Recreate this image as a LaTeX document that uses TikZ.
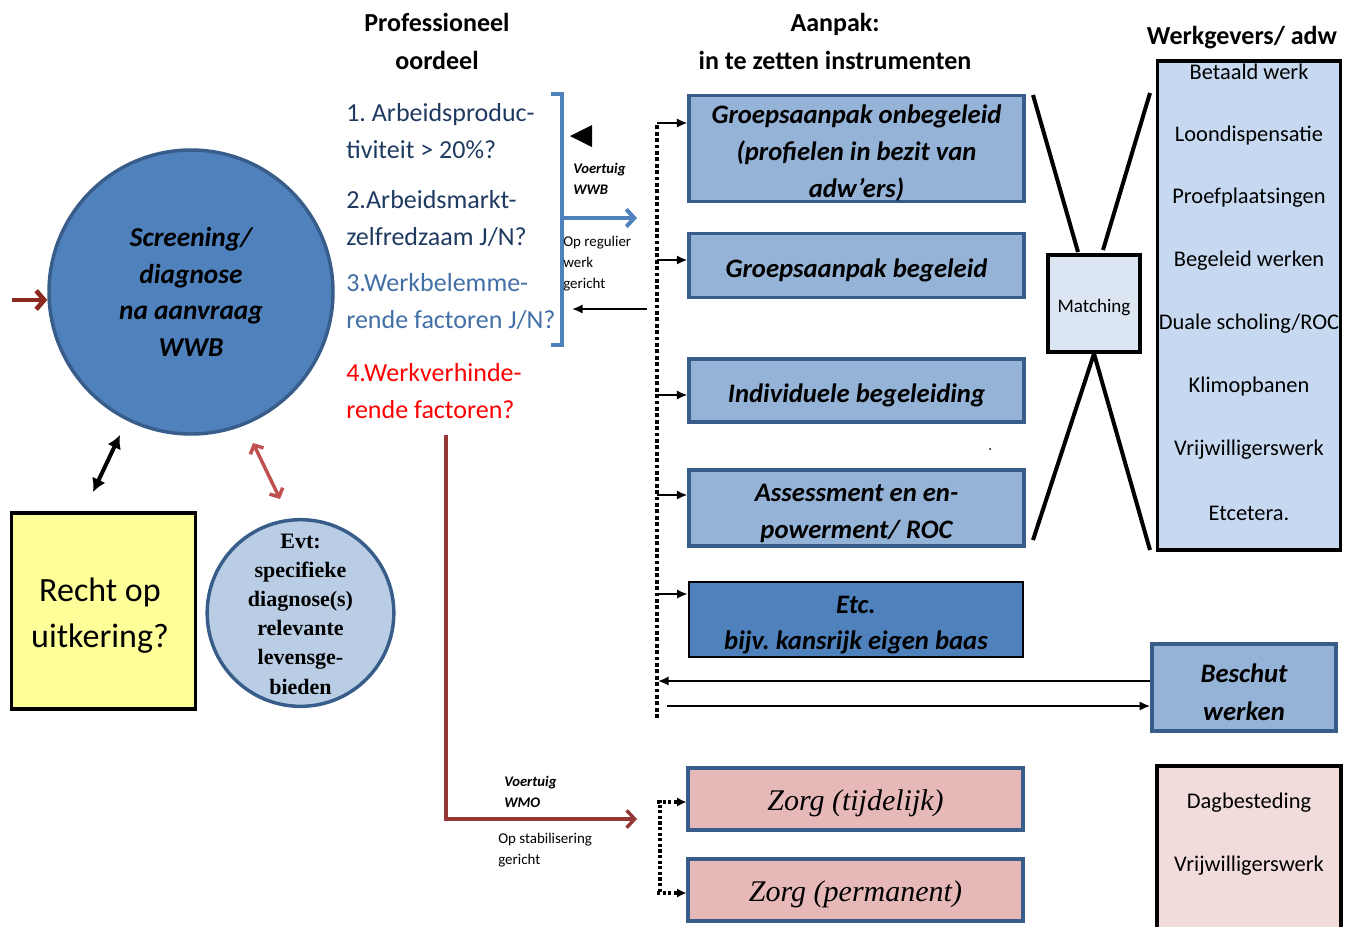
\documentclass[tikz,border=0pt]{standalone}
\usepackage{fontspec}
\setmainfont{Carlito}
\newfontfamily\serfam{Liberation Serif}
\usetikzlibrary{arrows.meta}
\newcommand\myfs[2]{\fontsize{#1}{#2}\selectfont}
\newcommand\myst{\rule{0pt}{21pt}}
\definecolor{circblue}{HTML}{4F81BD}
\definecolor{bordblue}{HTML}{385D8A}
\definecolor{boxblue}{HTML}{95B3D7}
\definecolor{colblue}{HTML}{C6D9F1}
\definecolor{matchblue}{HTML}{DCE6F2}
\definecolor{smallcirc}{HTML}{B9CDE5}
\definecolor{yellowbox}{HTML}{FFFF99}
\definecolor{zorgpink}{HTML}{E6B9B8}
\definecolor{dagpink}{HTML}{F2DCDB}
\definecolor{navytext}{HTML}{1F3A60}
\definecolor{midtext}{HTML}{416FA6}
\definecolor{brkblue}{HTML}{4F81BD}
\definecolor{darkredline}{HTML}{953735}
\definecolor{inred}{HTML}{8B2A1E}
\definecolor{softred}{HTML}{C0504D}
\begin{document}
\frenchspacing
\begin{tikzpicture}[x=0.75pt,y=-0.75pt,
  head/.style={inner sep=0, align=center, font=\bfseries\myfs{19.5}{28.5}},
  blbox/.style={draw=bordblue, line width=2.6pt, fill=boxblue, minimum width=251pt, inner sep=0, align=center, font=\bfseries\itshape\myfs{20}{27.75}},
  quest/.style={anchor=west, inner sep=0, align=left, font=\myfs{19.5}{27.75}},
  note/.style={anchor=west, inner sep=0, align=left, font=\myfs{11.2}{15.75}},
  notebi/.style={anchor=west, inner sep=0, align=left, font=\bfseries\itshape\myfs{11}{15.75}},
  colitem/.style={inner sep=0, font=\myfs{16.8}{20}},
  arr/.style={line width=1.5pt, -{Latex[length=8pt,width=7pt]}},
  mdot/.style={line width=2.8pt, dash pattern=on 2.8pt off 2pt},
  zbox/.style={draw=bordblue, line width=2.6pt, fill=zorgpink, minimum width=251pt, minimum height=46.5pt, inner sep=0, font=\serfam\itshape\myfs{22.5}{27}},
  chev/.style={-{Straight Barb[length=6pt,width=13pt]}},
]
\useasboundingbox (0,0) rectangle (1355,926);

% headings
\node[head] (h1) at (437,41) {Professioneel\\oordeel};
\node[head] (h2) at (835,41) {Aanpak:\\in te zetten instrumenten};
\node[head] (h3) at (1242,38) {Werkgevers/ adw};

% big circle
\node[circle, draw=bordblue, line width=2.6pt, fill=circblue, minimum size=213pt, inner sep=0, align=center, font=\bfseries\itshape\myfs{20.5}{27.5}] (scr) at (191,292) {Screening/\\diagnose\\na aanvraag\\WWB};
\coordinate (inA) at (12,300);
\draw[inred, line width=3.5pt, -{Straight Barb[length=6pt,width=14pt]}] (inA) -- (inA -| scr.west);

% yellow box
\node[draw=black, line width=2.5pt, fill=yellowbox, minimum width=138pt, minimum height=147pt, inner sep=0] (rk) at (103.5,611) {};
\node[inner sep=0, align=center, font=\myfs{25.5}{34.5}] (rkt) at (100,616) {Recht op\\uitkering?};

% small circle
\node[circle, draw=bordblue, line width=2.6pt, fill=smallcirc, minimum size=140pt, inner sep=0] (evc) at (300.5,613) {};
\node[inner sep=0, align=center, font=\serfam\bfseries\myfs{16.5}{21.9}] (ev) at (300.5,614) {Evt:\\specifieke\\diagnose(s)\\relevante\\levensge-\\bieden};

% double arrows
\coordinate (ka) at (93,492); \coordinate (kb) at (120,435);
\draw[line width=3pt, {Latex[length=10pt,width=11pt]}-{Latex[length=10pt,width=11pt]}] (ka) -- (kb);
\coordinate (ra) at (253,443); \coordinate (rbb) at (280,499);
\draw[softred, line width=2.6pt, {Straight Barb[length=5pt,width=11pt]}-{Straight Barb[length=5pt,width=11pt]}] (ra) -- (rbb);

% questions
\node[quest, text=navytext] (q1) at (346,131.5) {1. Arbeidsproduc-\\tiviteit > 20\%?};
\node[quest, text=navytext] (q2) at (346,218.5) {2.Arbeidsmarkt-\\zelfredzaam J/N?};
\node[quest, text=midtext] (q3) at (346,301.5) {3.Werkbelemme-\\rende factoren J/N?};
\node[quest, text=red] (q4) at (346,391.5) {4.Werkverhinde-\\rende factoren?};

% bracket and WWB arrow
\draw[brkblue, line width=2.6pt] (551,94) -- (562,94) -- (562,345) -- (551,345);
\coordinate (brk) at (562,218);
\coordinate (wwbtip) at (637,218);
\draw[brkblue, line width=3pt, chev] (brk) -- (wwbtip);
\fill (570,136) -- (592,125) -- (592,147) -- cycle;
\node[notebi] (vw) at (573,178.5) {Voertuig\\WWB};
\node[note] (orw) at (563,263.5) {Op regulier\\werk\\gericht};
\coordinate (rb) at (647,309); \coordinate (rbend) at (572,309);
\draw[arr] (rb) -- (rbend);

% instrument boxes
\node[blbox, minimum height=78pt] (b1) at (856.5,148.5) {\myst Groepsaanpak onbegeleid\\(profielen in bezit van\\adw’ers)};
\node[blbox, minimum height=48pt] (b2) at (856.5,265.5) {\myst Groepsaanpak begeleid};
\node[blbox, minimum height=47pt] (b3) at (856.5,390.5) {\myst Individuele begeleiding};
\node[blbox, minimum height=57pt] (b4) at (856.5,508) {\myst Assessment en en-\\powerment/ ROC};
\node[blbox, draw=black, line width=1.5pt, fill=circblue, minimum height=56pt, font=\bfseries\itshape\myfs{20}{27}] (b5) at (856,619.5) {\rule{0pt}{22pt}Etc.\\bijv. kansrijk eigen baas};
\fill (990,449) circle (1);

% dotted distribution line
\coordinate (dtop) at (657,123); \coordinate (dbot) at (657,718);
\draw[mdot] (dbot) -- (dtop);
\draw[arr] (dtop) -- (dtop -| b1.west);
\coordinate (d2) at (657,260); \draw[arr] (d2) -- (d2 -| b2.west);
\coordinate (d3) at (657,395); \draw[arr] (d3) -- (d3 -| b3.west);
\coordinate (d4) at (657,495); \draw[arr] (d4) -- (d4 -| b4.west);
\coordinate (d5) at (657,594); \draw[arr] (d5) -- (d5 -| b5.west);

% matching
\node[draw=black, line width=2.5pt, fill=matchblue, minimum width=69pt, minimum height=72.75pt, inner sep=0, font=\myfs{14.3}{17}] (m) at (1094,303.5) {\rule{0pt}{16.5pt}Matching};
\coordinate (l1a) at (1033,95); \coordinate (l1b) at (1078,252);
\coordinate (l2a) at (1150,93); \coordinate (l2b) at (1103,250);
\coordinate (l3) at (1033,540); \coordinate (l4) at (1150,550);
\draw[line width=3pt] (l1a) -- (l1b);
\draw[line width=3pt] (l2a) -- (l2b);
\draw[line width=3pt] (m.south) -- (l3);
\draw[line width=3pt] (m.south) -- (l4);

% employer column
\node[draw=black, line width=2.5pt, fill=colblue, minimum width=137pt, minimum height=366.75pt, inner sep=0] (wg) at (1249,305.5) {};
\node[colitem] (w1) at (1249,72) {Betaald werk};
\node[colitem] (w2) at (1249,136) {Loondispensatie};
\node[colitem] (w3) at (1249,198) {Proefplaatsingen};
\node[colitem] (w4) at (1249,261) {Begeleid werken};
\node[colitem] (w5) at (1249,324) {Duale scholing/ROC};
\node[colitem] (w6) at (1249,387) {Klimopbanen};
\node[colitem] (w7) at (1249,450) {Vrijwilligerswerk};
\node[colitem] (w8) at (1249,513) {Etcetera.};

% beschut werken
\node[blbox, minimum width=138pt, minimum height=65pt, font=\bfseries\itshape\myfs{20}{28.5}] (bw) at (1244,687.5) {\myst Beschut\\werken};
\coordinate (ba) at (658,681); \draw[arr] (ba -| bw.west) -- (ba);
\coordinate (bb) at (667,706); \draw[arr] (bb) -- (bb -| bw.west);

% WMO route
\coordinate (rl1) at (446,435); \coordinate (rl2) at (446,819); \coordinate (rl3) at (637,819);
\draw[darkredline, line width=2.6pt, chev] (rl1) -- (rl2) -- (rl3);
\node[notebi] (vwmo) at (504,791.5) {Voertuig\\WMO};
\node[note] (osg) at (498,850.5) {Op stabilisering\\gericht};

% zorg
\node[zbox] (z1) at (855.5,799) {\rule{0pt}{22.5pt}Zorg (tijdelijk)};
\node[zbox] (z2) at (855.5,890) {\rule{0pt}{22.5pt}Zorg (permanent)};
\coordinate (zc1) at (657,802); \coordinate (zc2) at (657,893);
\draw[line width=2.4pt, dash pattern=on 2.4pt off 1.8pt] (zc1) -- ++(3,0) -- ([xshift=3*0.75pt]zc2) -- (zc2);
\draw[line width=2.4pt, dash pattern=on 2.4pt off 1.8pt, -{Latex[length=7pt,width=7pt]}] (zc1) -- (zc1 -| z1.west);
\draw[line width=2.4pt, dash pattern=on 2.4pt off 1.8pt, -{Latex[length=7pt,width=7pt]}] (zc2) -- (zc2 -| z2.west);

% dagbesteding
\draw[black, line width=2.5pt, fill=dagpink] (1157,766) rectangle (1341,940);
\node[colitem] (dg1) at (1249,803) {Dagbesteding};
\node[colitem] (dg2) at (1249,866) {Vrijwilligerswerk};
\end{tikzpicture}
\end{document}
